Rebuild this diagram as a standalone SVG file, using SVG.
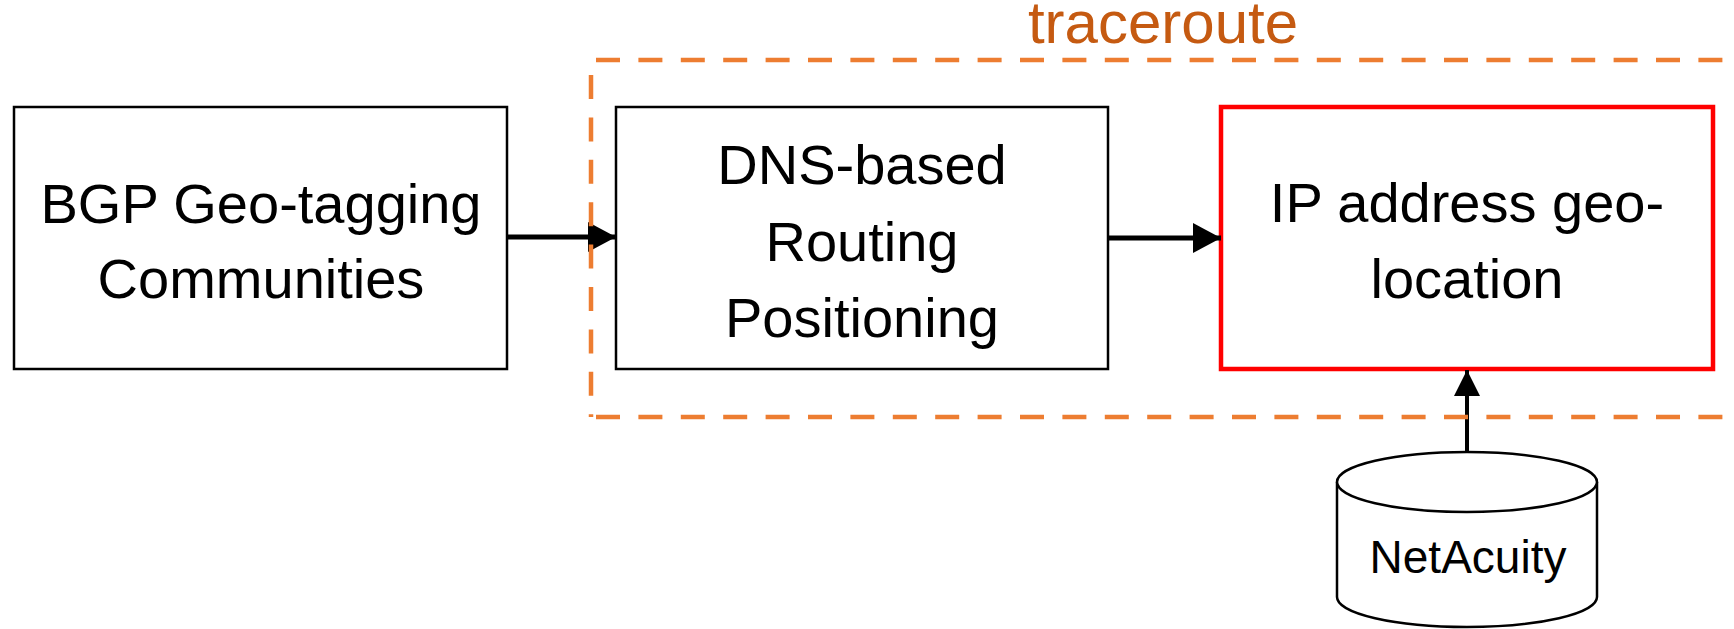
<svg xmlns="http://www.w3.org/2000/svg" width="1734" height="629" viewBox="0 0 1734 629">
<style>
.box{fill:#fff;stroke:#000;stroke-width:2.5}
.red{fill:#fff;stroke:#FF0000;stroke-width:4.5}
.t{font-family:"Liberation Sans",Arial,sans-serif;font-size:56px;fill:#000;text-anchor:middle}
.conn{stroke:#000;stroke-width:5;fill:none}
.dash{stroke:#ED7D31;stroke-width:4.5;fill:none;stroke-dasharray:24 18.4}
</style>
<defs>
<marker id="ah" markerUnits="userSpaceOnUse" markerWidth="28" markerHeight="30" refX="28" refY="15" orient="auto">
<path d="M0,0 L28,15 L0,30 z" fill="#000"/>
</marker>
<marker id="ah2" markerUnits="userSpaceOnUse" markerWidth="26" markerHeight="26" refX="26" refY="13" orient="auto">
<path d="M0,0 L26,13 L0,26 z" fill="#000"/>
</marker>
</defs>
<g id="bgp">
<rect class="box" x="14" y="107" width="493" height="262"/>
<text class="t" x="261" y="223">BGP Geo-tagging</text>
<text class="t" x="261" y="298">Communities</text>
</g>
<g id="dns">
<rect class="box" x="616" y="107" width="492" height="262"/>
<text class="t" x="862" y="184">DNS-based</text>
<text class="t" x="862" y="261">Routing</text>
<text class="t" x="862" y="337">Positioning</text>
</g>
<g id="ip">
<rect class="red" x="1221" y="107" width="492" height="262"/>
<text class="t" x="1467" y="222">IP address geo-</text>
<text class="t" x="1467" y="298">location</text>
</g>
<g id="netacuity">
<path d="M1337,482 L1337,597 A130,30 0 0 0 1597,597 L1597,482" class="box"/>
<ellipse cx="1467" cy="482" rx="130" ry="30" class="box"/>
<text class="t" x="1468" y="573" style="font-size:46px">NetAcuity</text>
</g>
<g id="connectors">
<line class="conn" x1="507" y1="237" x2="616" y2="237" marker-end="url(#ah)"/>
<line class="conn" x1="1108" y1="238" x2="1221" y2="238" marker-end="url(#ah)"/>
<line class="conn" x1="1467" y1="452" x2="1467" y2="370" style="stroke-width:4" marker-end="url(#ah2)"/>
</g>
<g id="traceroute">
<path class="dash" d="M596,60 L1734,60"/>
<path class="dash" d="M591,75 L591,417"/>
<path class="dash" d="M596,417 L1734,417"/>
<text x="1163" y="43" style="font-family:'Liberation Sans',Arial,sans-serif;font-size:60px;fill:#C55A11;text-anchor:middle">traceroute</text>
</g>
</svg>
